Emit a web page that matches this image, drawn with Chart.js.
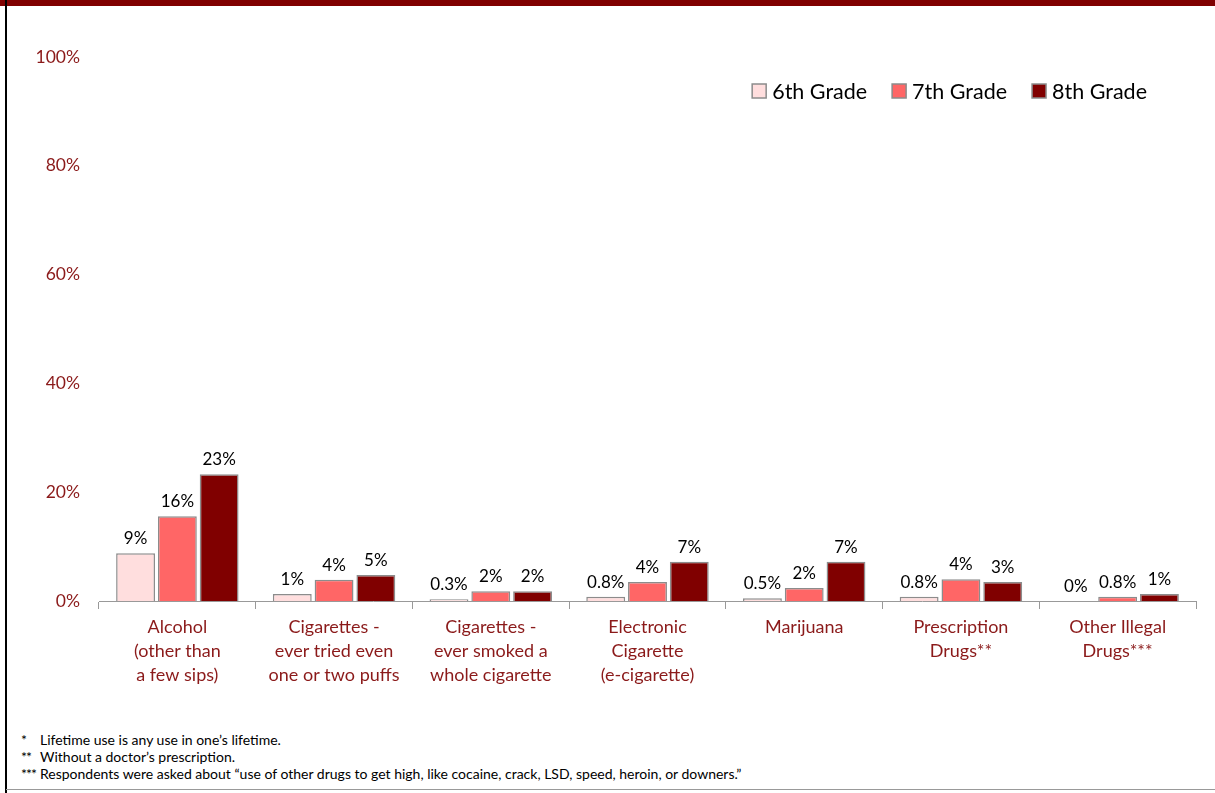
<!DOCTYPE html>
<html>
<head>
<meta charset="utf-8">
<script src="https://cdn.jsdelivr.net/npm/chart.js@4"></script>
<style>
    body { margin: 0; background: #fff; width: 1215px; height: 793px; overflow: hidden; position: relative; font-family: Lato, sans-serif; }
    #top-bar { position: absolute; left: 0; top: 0; width: 1215px; height: 6px; background: #800000; }
    #left-bar { position: absolute; left: 5px; top: 0; width: 2px; height: 793px; background: #000; }
    #bottom-line { position: absolute; left: 6px; top: 789px; width: 1209px; height: 1px; background: #999; }
    #chart-box { position: absolute; left: 0; top: 0; width: 1215px; height: 720px; }
    #notes { position: absolute; left: 21px; top: 731px; font-size: 14px; line-height: 17px; color: #000; }
    #notes span { display: inline-block; width: 19px; letter-spacing: -1px; }
</style>
</head>
<body>
<div id="top-bar"></div>
<div id="left-bar"></div>
<div id="chart-box"><canvas id="chart"></canvas></div>
<div id="notes">
    <div><span>*</span>Lifetime use is any use in one’s lifetime.</div>
    <div><span>**</span>Without a doctor’s prescription.</div>
    <div><span>***</span>Respondents were asked about “use of other drugs to get high, like cocaine, crack, LSD, speed, heroin, or downers.”</div>
</div>
<div id="bottom-line"></div>
<script>
// Categories and grade values (percent).
const categories = [
    ['Alcohol', '(other than', 'a few sips)'],
    ['Cigarettes -', 'ever tried even', 'one or two puffs'],
    ['Cigarettes -', 'ever smoked a', 'whole cigarette'],
    ['Electronic', 'Cigarette', '(e-cigarette)'],
    ['Marijuana'],
    ['Prescription', 'Drugs**'],
    ['Other Illegal', 'Drugs***']
];
const grade6 = [8.8, 1.3, 0.3, 0.8, 0.5, 0.8, 0];
const grade7 = [15.6, 3.9, 1.8, 3.5, 2.4, 4.0, 0.8];
const grade8 = [23.3, 4.8, 1.8, 7.2, 7.2, 3.5, 1.3];
const grade6Labels = ['9%', '1%', '0.3%', '0.8%', '0.5%', '0.8%', '0%'];
const grade7Labels = ['16%', '4%', '2%', '4%', '2%', '4%', '0.8%'];
const grade8Labels = ['23%', '5%', '2%', '7%', '7%', '3%', '1%'];
const yTicks = [0, 20, 40, 60, 80, 100];

const darkRed = '#8b1a1a';

// Draws the value label above each bar.
const barLabels = {
    id: 'barLabels',
    afterDatasetsDraw(chart) {
        const ctx = chart.ctx;
        ctx.save();
        ctx.font = '17px Lato';
        ctx.fillStyle = '#000';
        ctx.textAlign = 'center';
        ctx.textBaseline = 'bottom';
        chart.data.datasets.forEach((ds, i) => {
            chart.getDatasetMeta(i).data.forEach((bar, j) => {
                ctx.fillText(ds.valueLabels[j], bar.x, bar.y - 6);
            });
        });
        ctx.restore();
    }
};

// Legend drawn inside the plot, top right (the built-in one can't sit there in a row).
const insideLegend = {
    id: 'insideLegend',
    afterDraw(chart) {
        const ctx = chart.ctx;
        const box = 14, gap = 6, spacing = 25;
        const right = chart.chartArea.right - 49;
        const midY = chart.chartArea.top + 34;
        ctx.save();
        ctx.font = '21.5px Lato';
        ctx.textBaseline = 'middle';
        const items = chart.data.datasets.map(ds => ({
            ds, w: box + gap + ctx.measureText(ds.label).width
        }));
        let x = right - items.reduce((s, it) => s + it.w, 0) - spacing * (items.length - 1);
        items.forEach(it => {
            ctx.fillStyle = it.ds.backgroundColor;
            ctx.fillRect(x, midY - box / 2, box, box);
            ctx.strokeStyle = it.ds.borderColor;
            ctx.lineWidth = 1.5;
            ctx.strokeRect(x, midY - box / 2, box, box);
            ctx.fillStyle = '#000';
            ctx.fillText(it.ds.label, x + box + gap, midY + 1);
            x += it.w + spacing;
        });
        ctx.restore();
    }
};

new Chart(document.getElementById('chart'), {
    type: 'bar',
    data: {
        labels: categories,
        datasets: [
            { label: '6th Grade', data: grade6, valueLabels: grade6Labels, backgroundColor: '#ffdede' },
            { label: '7th Grade', data: grade7, valueLabels: grade7Labels, backgroundColor: '#ff6666' },
            { label: '8th Grade', data: grade8, valueLabels: grade8Labels, backgroundColor: '#800000' }
        ].map(ds => Object.assign(ds, {
            borderColor: '#8c8c8c',
            borderWidth: 1.5,
            barPercentage: 0.93,
            categoryPercentage: 0.8
        }))
    },
    options: {
        responsive: true,
        maintainAspectRatio: false,
        animation: false,
        layout: { padding: { top: 57, right: 19, left: 0, bottom: 0 } },
        plugins: {
            tooltip: { enabled: false },
            legend: { display: false }
        },
        scales: {
            x: {
                afterFit(scale) { scale.height = 119; },
                grid: { offset: true, drawOnChartArea: false, tickLength: 8, color: '#999' },
                border: { color: '#999', width: 1 },
                ticks: {
                    color: darkRed,
                    font: { family: 'Lato', size: 18, lineHeight: 1.33 },
                    padding: 6,
                    maxRotation: 0,
                    autoSkip: false
                }
            },
            y: {
                min: 0,
                max: 100,
                afterFit(scale) { scale.width = 99; },
                afterBuildTicks(scale) { scale.ticks = yTicks.map(v => ({ value: v })); },
                grid: { display: false },
                border: { display: false },
                ticks: {
                    color: darkRed,
                    font: { family: 'Lato', size: 17.5 },
                    padding: 11,
                    callback: v => v + '%'
                }
            }
        }
    },
    plugins: [barLabels, insideLegend]
});
</script>
</body>
</html>
